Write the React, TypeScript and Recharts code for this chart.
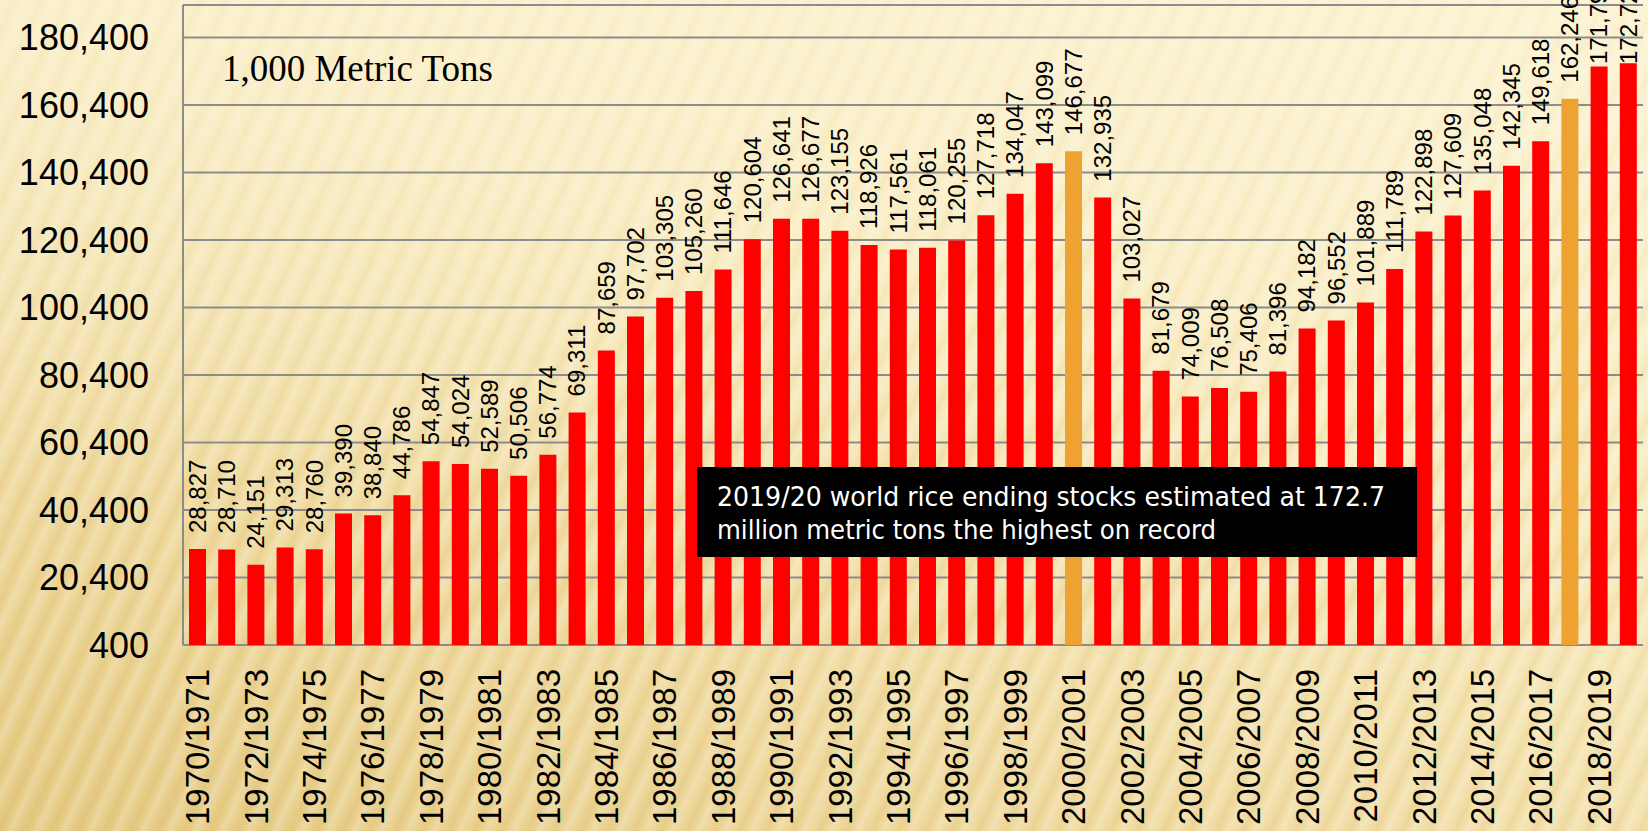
import { BarChart, Bar, XAxis, YAxis, CartesianGrid, Cell, LabelList } from 'recharts';

const seasons = [
	'1970/1971', '1971/1972', '1972/1973', '1973/1974', '1974/1975', '1975/1976', '1976/1977', '1977/1978', '1978/1979', '1979/1980',
	'1980/1981', '1981/1982', '1982/1983', '1983/1984', '1984/1985', '1985/1986', '1986/1987', '1987/1988', '1988/1989', '1989/1990',
	'1990/1991', '1991/1992', '1992/1993', '1993/1994', '1994/1995', '1995/1996', '1996/1997', '1997/1998', '1998/1999', '1999/2000',
	'2000/2001', '2001/2002', '2002/2003', '2003/2004', '2004/2005', '2005/2006', '2006/2007', '2007/2008', '2008/2009', '2009/2010',
	'2010/2011', '2011/2012', '2012/2013', '2013/2014', '2014/2015', '2015/2016', '2016/2017', '2017/2018', '2018/2019', '2019/2020',
];

// ending stocks, 1,000 metric tons
const endingStocks = [
	28827, 28710, 24151, 29313, 28760, 39390, 38840, 44786, 54847, 54024,
	52589, 50506, 56774, 69311, 87659, 97702, 103305, 105260, 111646, 120604,
	126641, 126677, 123155, 118926, 117561, 118061, 120255, 127718, 134047, 143099,
	146677, 132935, 103027, 81679, 74009, 76508, 75406, 81396, 94182, 96552,
	101889, 111789, 122898, 127609, 135048, 142345, 149618, 162246, 171795, 172725,
];

const highlightedSeasons = ['2000/2001', '2017/2018'];

const yTicks = [400, 20400, 40400, 60400, 80400, 100400, 120400, 140400, 160400, 180400];

// boundaries between the season bands, for the tick marks
const bandEdges = Array.from({ length: seasons.length + 1 }, (_, i) => i);

const data = seasons.map((season, i) => ({ season, stocks: endingStocks[i] }));

const sans = '"Liberation Sans", Arial, sans-serif';
const gray = '#8c8c8c';

const SeasonTick = (props: any) => {
	const { x, y, payload } = props;
	const ty = y + 22;
	return (
		<text
			x={x}
			y={ty}
			transform={`rotate(-90 ${x} ${ty})`}
			textAnchor='end'
			dy='0.35em'
			fontSize={33}
			fontFamily={sans}
			fill='#000'>
			{payload.value}
		</text>
	);
};

const StockLabel = (props: any) => {
	const { x, y, width, value } = props;
	const cx = Number(x) + Number(width) / 2;
	// labels that would run far off the top get pushed down onto the bar, like the original
	const ty = Math.max(Number(y) - 16, 64);
	return (
		<text
			x={cx}
			y={ty}
			transform={`rotate(-90 ${cx} ${ty})`}
			textAnchor='start'
			dy='0.35em'
			fontSize={24}
			fontFamily={sans}
			fill='#000'>
			{Number(value).toLocaleString('en-US')}
		</text>
	);
};

export default function App() {
	return (
		<div
			style={{
				position: 'absolute',
				left: 0,
				top: 0,
				width: 1648,
				height: 831,
				overflow: 'hidden',
				background:
					'linear-gradient(to bottom, rgba(252,244,214,0.55) 0%, rgba(252,244,214,0.25) 35%, rgba(252,244,214,0) 60%), repeating-linear-gradient(115deg, rgba(255,255,255,0.22) 0px, rgba(255,255,255,0) 9px, rgba(185,145,45,0.09) 14px, rgba(255,255,255,0) 19px, rgba(255,255,255,0.22) 24px), linear-gradient(200deg, #fcf3d2 0%, #f8eabd 40%, #eed89c 75%, #e4c981 100%)',
			}}>
			<BarChart
				width={1648}
				height={831}
				data={data}
				margin={{ top: 5, right: 5, bottom: 0, left: 0 }}>
				<CartesianGrid vertical={false} stroke={gray} strokeWidth={2} xAxisId='cat' />
				<XAxis
					xAxisId='edges'
					type='number'
					domain={[0, seasons.length]}
					allowDataOverflow
					ticks={bandEdges}
					interval={0}
					height={0}
					tick={() => <g />}
					tickSize={9}
					tickLine={{ stroke: gray, strokeWidth: 2 }}
					axisLine={{ stroke: gray, strokeWidth: 2 }}
				/>
				<XAxis
					xAxisId='cat'
					dataKey='season'
					interval={1}
					height={186}
					tickSize={0}
					tickLine={false}
					axisLine={false}
					tick={<SeasonTick />}
				/>
				<YAxis
					domain={[400, 190000]}
					ticks={yTicks}
					allowDataOverflow
					width={183}
					tickSize={0}
					tickMargin={34}
					tickLine={false}
					axisLine={{ stroke: gray, strokeWidth: 2 }}
					tick={{ fontSize: 36, fill: '#000', fontFamily: sans }}
					tickFormatter={(v: number) => v.toLocaleString('en-US')}
				/>
				<Bar xAxisId='cat' dataKey='stocks' barSize={17} fill='#ff0000' isAnimationActive={false}>
					{data.map((d) => (
						<Cell key={d.season} fill={highlightedSeasons.includes(d.season) ? '#eda232' : '#ff0000'} />
					))}
					<LabelList dataKey='stocks' content={<StockLabel />} />
				</Bar>
			</BarChart>
			<svg
				width={1648}
				height={831}
				style={{ position: 'absolute', left: 0, top: 0, pointerEvents: 'none' }}>
				<text
					x={222}
					y={81}
					fontSize={37}
					fontFamily='"Liberation Serif", "Times New Roman", serif'
					textLength={271}
					lengthAdjust='spacingAndGlyphs'
					fill='#000'>
					1,000 Metric Tons
				</text>
				<rect x={697} y={467} width={720} height={90} fill='#000' />
				<text
					x={717}
					y={506}
					fontSize={27}
					fontFamily='"Liberation Sans Narrow", "DejaVu Sans Condensed", "Liberation Sans", sans-serif'
					textLength={668}
					lengthAdjust='spacingAndGlyphs'
					fill='#fff'>
					2019/20 world rice ending stocks estimated at 172.7
				</text>
				<text
					x={717}
					y={539}
					fontSize={27}
					fontFamily='"Liberation Sans Narrow", "DejaVu Sans Condensed", "Liberation Sans", sans-serif'
					textLength={499}
					lengthAdjust='spacingAndGlyphs'
					fill='#fff'>
					million metric tons the highest on record
				</text>
			</svg>
		</div>
	);
}
